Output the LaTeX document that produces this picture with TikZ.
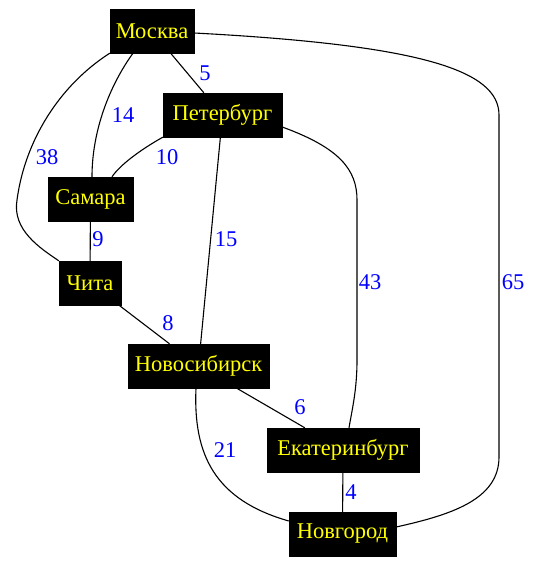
\documentclass[tikz,border=0pt]{standalone}
\usepackage{fontspec}
\setmainfont{Liberation Serif}
\newfontfamily\cityserif{Liberation Serif}
\definecolor{lblblue}{RGB}{0,0,255}
\definecolor{txtyellow}{RGB}{255,255,0}
\begin{document}
\begin{tikzpicture}[x=1pt,y=-1pt,
  city/.style={fill=black,draw=black,text=txtyellow,inner sep=0pt,minimum height=44pt,font=\cityserif\fontsize{22.5}{25}\selectfont},
  wlabel/.style={text=lblblue,inner sep=0pt,font=\cityserif\fontsize{22.5}{25}\selectfont},
  edge/.style={draw=black,line width=1.1pt}]
\useasboundingbox (0,0) rectangle (538,567);
\node[city,minimum width=84pt] (mos) at (152,31) {Москва};
\node[city,minimum width=119pt] (pet) at (222.5,115) {Петербург};
\node[city,minimum width=85pt] (sam) at (90.5,199) {Самара};
\node[city,minimum width=62pt] (chi) at (90,283) {Чита};
\node[city,minimum width=141pt] (nsk) at (198.5,366) {Новосибирск};
\node[city,minimum width=152pt] (ekb) at (343,450) {Екатеринбург};
\node[city,minimum width=107pt] (ngd) at (342.5,534) {Новгород};

\draw[edge] (mos) -- (pet);
\draw[edge] ([xshift=-19pt]mos.south) .. controls (110,85) and (92,130) .. ([xshift=1.5pt]sam.north);
\draw[edge] (mos.south west) .. controls (60,85) and (25,140) .. (17,200) .. controls (12,230) and (40,248) .. (chi.north west);
\draw[edge] (pet.south west) .. controls (140,150) and (120,165) .. ([xshift=21.5pt]sam.north);
\draw[edge] (pet) -- (nsk);
\draw[edge] ([yshift=-12pt]pet.east) .. controls (340,148) and (357,170) .. (357,200) -- (357,360) .. controls (357,390) and (352,410) .. ([xshift=6pt]ekb.north);
\draw[edge] ([yshift=-2pt]mos.east) .. controls (420,45) and (499,70) .. (499,115) -- (499,457) .. controls (499,500) and (450,515) .. ([yshift=7pt]ngd.east);
\draw[edge] (sam) -- (chi);
\draw[edge] (chi) -- (nsk);
\draw[edge] (nsk) -- (ekb);
\draw[edge] ([xshift=-2.5pt]nsk.south) .. controls (193,455) and (215,500) .. ([yshift=13pt]ngd.west);
\draw[edge] (ekb) -- (ngd);

\node[wlabel] (l5) at (205,73) {5};
\node[wlabel] (l14) at (123,115) {14};
\node[wlabel] (l38) at (47,157) {38};
\node[wlabel] (l10) at (167,157) {10};
\node[wlabel] (l9) at (98,239) {9};
\node[wlabel] (l15) at (226,239) {15};
\node[wlabel] (l43) at (370,282) {43};
\node[wlabel] (l65) at (513,282) {65};
\node[wlabel] (l8) at (168,323) {8};
\node[wlabel] (l6) at (300,407) {6};
\node[wlabel] (l21) at (225,450) {21};
\node[wlabel] (l4) at (351,492) {4};
\end{tikzpicture}
\end{document}
